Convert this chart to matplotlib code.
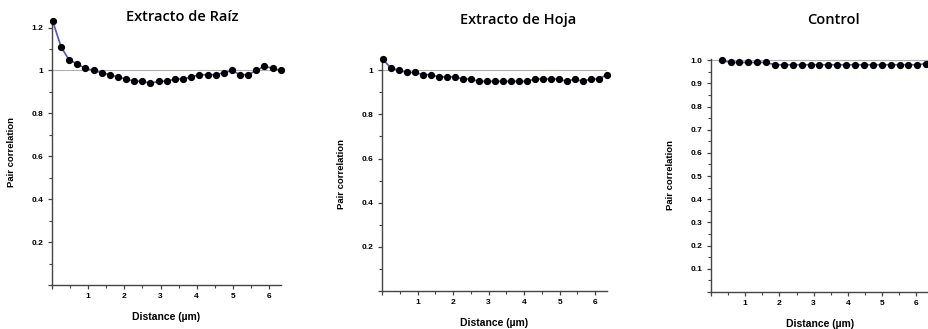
import matplotlib
matplotlib.use('Agg')
import matplotlib.pyplot as plt
from matplotlib.ticker import MultipleLocator, FuncFormatter

# distancias (um) y valores de correlacion
distancia = [0.02, 0.25, 0.47, 0.70, 0.92, 1.15, 1.37, 1.60, 1.82, 2.05,
             2.27, 2.50, 2.72, 2.95, 3.17, 3.40, 3.62, 3.85, 4.07, 4.30,
             4.52, 4.75, 4.97, 5.20, 5.42, 5.65, 5.87, 6.10, 6.32]

raiz = [1.23, 1.11, 1.05, 1.03, 1.01, 1.00, 0.99, 0.98, 0.97, 0.96,
        0.95, 0.95, 0.94, 0.95, 0.95, 0.96, 0.96, 0.97, 0.98, 0.98,
        0.98, 0.99, 1.00, 0.98, 0.98, 1.00, 1.02, 1.01, 1.00]

hoja = [1.05, 1.01, 1.00, 0.99, 0.99, 0.98, 0.98, 0.97, 0.97, 0.97,
        0.96, 0.96, 0.95, 0.95, 0.95, 0.95, 0.95, 0.95, 0.95, 0.96,
        0.96, 0.96, 0.96, 0.95, 0.96, 0.95, 0.96, 0.96, 0.98]

distancia_control = [0.31, 0.57, 0.83, 1.09, 1.35, 1.61, 1.87, 2.13, 2.39, 2.65,
                     2.91, 3.17, 3.43, 3.69, 3.95, 4.21, 4.47, 4.73, 4.99, 5.25,
                     5.51, 5.77, 6.03, 6.29]

control = [1.00, 0.99, 0.99, 0.99, 0.99, 0.99, 0.98, 0.98, 0.98, 0.98,
           0.98, 0.98, 0.98, 0.98, 0.98, 0.98, 0.98, 0.98, 0.98, 0.98,
           0.98, 0.98, 0.98, 0.985]

titulos = ['Extracto de Raíz', 'Extracto de Hoja', 'Control']

W, H = 929, 329
AXIS_COLOR = '#444444'
LINE_COLOR = '#5050d8'

plt.rcParams['font.family'] = ['Liberation Sans', 'DejaVu Sans']

fig = plt.figure(figsize=(W / 100, H / 100), dpi=100)
fig.patch.set_facecolor('white')


def make_axes(left, right, bottom_y, top_y):
    return fig.add_axes([left / W, (H - bottom_y) / H, (right - left) / W, (bottom_y - top_y) / H])


def style_axes(ax, ylim, ymajor, yminor, yfmt):
    ax.set_xlim(0, 6.33)
    ax.set_ylim(*ylim)
    for side in ['top', 'right']:
        ax.spines[side].set_visible(False)
    for side in ['left', 'bottom']:
        ax.spines[side].set_color(AXIS_COLOR)
        ax.spines[side].set_linewidth(1.0)
    ax.xaxis.set_major_locator(MultipleLocator(1))
    ax.xaxis.set_minor_locator(MultipleLocator(0.5))
    ax.yaxis.set_major_locator(MultipleLocator(ymajor))
    ax.yaxis.set_minor_locator(MultipleLocator(yminor))
    ax.yaxis.set_major_formatter(yfmt)
    ax.xaxis.set_major_formatter(FuncFormatter(lambda v, p: '' if v == 0 else '%d' % v))
    ax.tick_params(which='major', direction='out', length=3, width=0.9, color=AXIS_COLOR,
                   pad=3, labelsize=6)
    ax.tick_params(which='minor', direction='out', length=2, width=0.8, color=AXIS_COLOR)
    for lab in ax.get_xticklabels() + ax.get_yticklabels():
        lab.set_fontweight('bold')
    ax.axhline(1.0, color='#b0b0b0', lw=0.8, zorder=1)


def plot_series(ax, x, y):
    ax.plot(x, y, color=LINE_COLOR, lw=1.2, zorder=2)
    ax.plot(x, y, 'o', color='black', markersize=4.2, zorder=3, clip_on=False)


def labels(ax, left, right, bottom_y, top_y, title, tx, ty):
    w = right - left
    h = bottom_y - top_y
    ax.set_ylabel('Pair correlation', fontsize=6.8, fontweight='bold')
    ax.yaxis.set_label_coords(-36 / w, 0.5)
    ax.set_xlabel('Distance (µm)', fontsize=7.5, fontweight='bold')
    ax.xaxis.set_label_coords(0.5, -27 / h)
    ax.text((tx - left) / w, (bottom_y - ty) / h, title, transform=ax.transAxes,
            ha='center', va='center', fontsize=10.5, fontweight='semibold',
            family=['Open Sans', 'DejaVu Sans'])


def fmt_general(v, p):
    if v == 0:
        return ''
    return ('%.1f' % v).rstrip('0').rstrip('.')


# Panel 1: raiz
geo1 = (52, 281, 285, 19)
ax1 = make_axes(*geo1)
style_axes(ax1, (0, 1.24), 0.2, 0.1, FuncFormatter(fmt_general))
plot_series(ax1, distancia, raiz)
labels(ax1, *geo1, titulos[0], 182, 17)

# Panel 2: hoja
geo2 = (382, 607, 291, 57)
ax2 = make_axes(*geo2)
style_axes(ax2, (0, 1.06), 0.2, 0.1, FuncFormatter(fmt_general))
plot_series(ax2, distancia, hoja)
labels(ax2, *geo2, titulos[1], 518, 20)

# Panel 3: control
geo3 = (711, 930, 292, 59)
ax3 = make_axes(*geo3)
style_axes(ax3, (0, 1.005), 0.1, 0.05,
           FuncFormatter(lambda v, p: '' if v == 0 else '%.1f' % v))
ax3.set_xlim(0, 6.4)
plot_series(ax3, distancia_control, control)
labels(ax3, *geo3, titulos[2], 833, 20)

fig.savefig('out.png', dpi=100, facecolor='white')
